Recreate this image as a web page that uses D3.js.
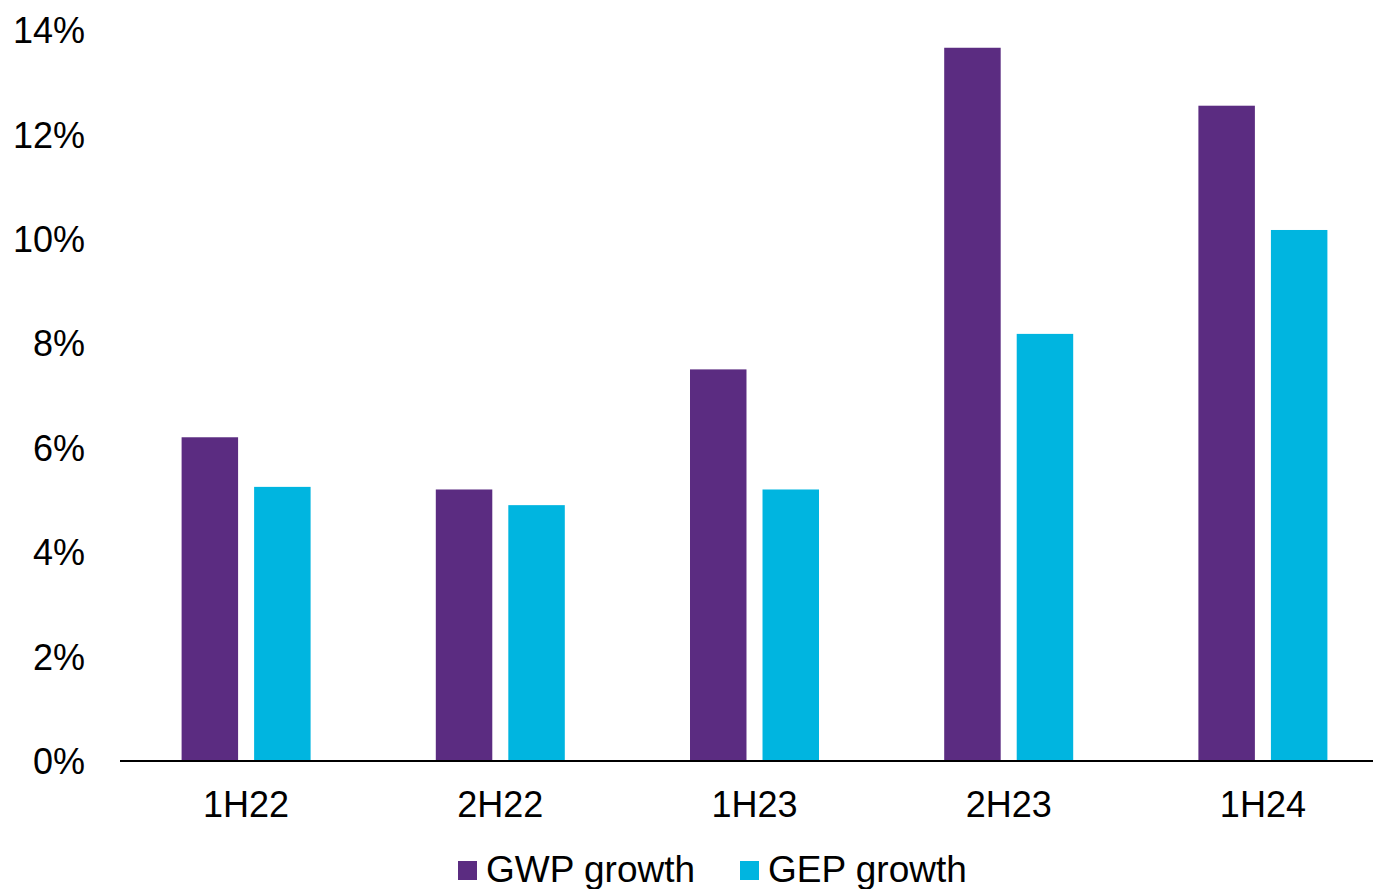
<!DOCTYPE html>
<html>
<head>
<meta charset="utf-8">
<script src="https://cdn.jsdelivr.net/npm/d3@7"></script>
<style>
  html, body { margin: 0; padding: 0; background: #fff; }
  svg { display: block; font-family: "Liberation Sans", Arial, sans-serif; }
</style>
</head>
<body>
<svg id="chart" width="1373" height="889"></svg>
<script>
const categories = ["1H22", "2H22", "1H23", "2H23", "1H24"];
const seriesNames = ["GWP growth", "GEP growth"];
const gwp = [6.2, 5.2, 7.5, 13.66, 12.55];
const gep = [5.25, 4.9, 5.2, 8.18, 10.17];
const yTicks = [0, 2, 4, 6, 8, 10, 12, 14];
const colors = ["#5B2C81", "#00B5E0"];

const svg = d3.select("#chart");
const W = 1373;

const x0 = d3.scaleBand().domain(categories).range([119, 1390]).padding(0);
const x1 = d3.scaleBand().domain(seriesNames)
  .range([x0.bandwidth() / 2 - 64.5, x0.bandwidth() / 2 + 64.5])
  .paddingInner(0.221).paddingOuter(0);
const y = d3.scaleLinear().domain([0, 14]).range([761, 30]);

const rows = categories.map((c, i) => ({ cat: c, vals: [gwp[i], gep[i]] }));

// bars
const g = svg.append("g");
const groups = g.selectAll("g.grp").data(rows).join("g")
  .attr("transform", d => `translate(${x0(d.cat)},0)`);
groups.selectAll("rect").data(d => d.vals.map((v, j) => ({ v, s: seriesNames[j], j })))
  .join("rect")
  .attr("x", d => x1(d.s))
  .attr("width", x1.bandwidth())
  .attr("y", d => y(d.v))
  .attr("height", d => y(0) - y(d.v))
  .attr("fill", d => colors[d.j]);

// y axis
const yAxis = d3.axisLeft(y).tickValues(yTicks).tickFormat(d => d + "%").tickSize(0).tickPadding(0);
const ya = svg.append("g").attr("transform", "translate(85,0)").call(yAxis);
ya.select(".domain").remove();
ya.selectAll("text").attr("font-size", 36).attr("fill", "#000")
  .attr("font-family", "'Liberation Sans', Arial, sans-serif").attr("dy", "0.35em");

// x axis
const xAxis = d3.axisBottom(x0).tickSize(0).tickPadding(0);
const xa = svg.append("g").attr("transform", `translate(0,${y(0)})`).call(xAxis);
xa.select(".domain").remove();
xa.selectAll("text").attr("font-size", 36).attr("fill", "#000")
  .attr("font-family", "'Liberation Sans', Arial, sans-serif").attr("y", 56).attr("dy", 0);
svg.append("line").attr("x1", 120).attr("x2", W).attr("y1", y(0)).attr("y2", y(0))
  .attr("stroke", "#000").attr("stroke-width", 2);

// legend
const legendX = [458, 740];
const lg = svg.append("g");
seriesNames.forEach((s, i) => {
  lg.append("rect").attr("x", legendX[i]).attr("y", 861).attr("width", 19).attr("height", 19)
    .attr("fill", colors[i]);
  lg.append("text").attr("x", legendX[i] + 28).attr("y", 882).attr("font-size", 37)
    .attr("fill", "#000").text(s);
});
</script>
</body>
</html>
